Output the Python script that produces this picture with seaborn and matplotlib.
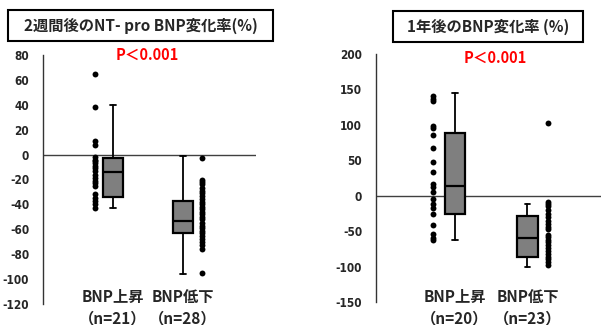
import matplotlib
matplotlib.use("Agg")
import matplotlib.pyplot as plt
import matplotlib.transforms as mtransforms
from matplotlib.patches import Rectangle
import numpy as np
import pandas as pd
import seaborn as sns

# ---- data -------------------------------------------------------------
groups = ["BNP上昇", "BNP低下"]

# NT-proBNP change at 2 weeks (%)
nt_counts = [21, 28]
nt_up = [65, 38, 11, 8, -2, -4, -5, -7, -9, -11, -13, -16, -19, -21, -23,
         -25, -32, -35, -37, -40, -43]
nt_down = [-3, -20, -22, -24, -27, -29, -31, -33, -36, -38, -40, -42, -44,
           -46, -48, -50, -52, -55, -57, -59, -61, -63, -65, -68, -70, -73,
           -76, -95]
nt_whislo = [-43, -96]
nt_q1 = [-34, -63]
nt_med = [-14, -53]
nt_q3 = [-3, -37]
nt_whishi = [40, -1]

# BNP change at 1 year (%)
bnp_counts = [20, 23]
bnp_up = [141, 137, 134, 99, 96, 86, 67, 47, 33, 16, 12, 5, -5, -12, -17,
          -26, -42, -54, -60, -63]
bnp_down = [102, -9, -12, -15, -20, -26, -30, -36, -40, -44, -47, -55, -58,
            -62, -66, -70, -74, -78, -82, -86, -90, -94, -98]
bnp_whislo = [-63, -100]
bnp_q1 = [-26, -87]
bnp_med = [14, -59]
bnp_q3 = [88, -29]
bnp_whishi = [145, -11]

titles = ["2週間後のNT- pro BNP変化率(%)", "1年後のBNP変化率 (%)"]
p_text = "P＜0.001"
nt_ticks = [80, 60, 40, 20, 0, -20, -40, -60, -80, -100, -120]
bnp_ticks = [200, 150, 100, 50, 0, -50, -100, -150]

# ---- style ------------------------------------------------------------
sns.set_style("white")
plt.rcParams["font.family"] = ["Noto Sans CJK JP", "DejaVu Sans"]

W, H = 601, 325
fig = plt.figure(figsize=(W / 100, H / 100), dpi=100)


def px_rect(x0, y0, x1, y1):
    """Figure-fraction rectangle from pixel edges (y from top)."""
    return [x0 / W, 1 - y1 / H, (x1 - x0) / W, (y1 - y0) / H]


def panel(ax, up, down, counts, whislo, q1, med, q3, whishi, ticks,
          ylim, xlim, dot_off, box_w):
    # scatter of individual values beside each box
    pts = pd.DataFrame({
        "x": [1 + dot_off[0]] * len(up) + [2 + dot_off[1]] * len(down),
        "value": up + down,
    })
    sns.scatterplot(data=pts, x="x", y="value", ax=ax, color="black",
                    s=18, linewidth=0, legend=False, zorder=4)

    stats = []
    for i in range(2):
        stats.append(dict(whislo=whislo[i], q1=q1[i], med=med[i],
                          q3=q3[i], whishi=whishi[i], fliers=[]))
    ax.bxp(stats, positions=[1, 2], widths=box_w, patch_artist=True,
           showfliers=False, capwidths=0.08,
           boxprops=dict(facecolor="#7f7f7f", edgecolor="black", linewidth=1.6),
           medianprops=dict(color="black", linewidth=1.6),
           whiskerprops=dict(color="black", linewidth=1.3),
           capprops=dict(color="black", linewidth=1.3),
           zorder=3)

    ax.axhline(0, color="#404040", linewidth=1.0, zorder=2)
    ax.set_xlim(*xlim)
    ax.set_ylim(*ylim)
    ax.set_yticks(ticks)
    ax.set_yticklabels([str(t) for t in ticks], fontsize=8.5,
                       fontweight="bold", family="DejaVu Sans",
                       fontstretch="condensed")
    ax.tick_params(axis="y", length=0, pad=10)
    ax.set_xticks([])
    ax.set_xlabel("")
    ax.set_ylabel("")
    for side in ["top", "right", "bottom"]:
        ax.spines[side].set_visible(False)
    ax.spines["left"].set_color("#333333")
    ax.spines["left"].set_linewidth(1.0)
    ax.patch.set_alpha(0)

    # group labels across the bottom of the panel
    trans = mtransforms.blended_transform_factory(ax.transData, fig.transFigure)
    for i, g in enumerate(groups):
        ax.text(i + 1, 1 - 297 / H, g, transform=trans, ha="center",
                va="center", fontsize=11, fontweight="bold", clip_on=False)
        ax.text(i + 1, 1 - 318 / H, f"（n={counts[i]}）", transform=trans,
                ha="center", va="center", fontsize=11, fontweight="bold",
                clip_on=False)


ax1 = fig.add_axes(px_rect(43, 55, 256, 304))
panel(ax1, nt_up, nt_down, nt_counts, nt_whislo, nt_q1, nt_med, nt_q3,
      nt_whishi, nt_ticks, (-120, 80), (0, 3.043), (-0.257, 0.271), 0.286)

ax2 = fig.add_axes(px_rect(376, 54, 601, 302))
panel(ax2, bnp_up, bnp_down, bnp_counts, bnp_whislo, bnp_q1, bnp_med,
      bnp_q3, bnp_whishi, bnp_ticks, (-150, 200), (-0.09, 3.014),
      (-0.303, 0.283), 0.276)

# boxed panel titles
for (x0, y0, x1, y1), t in zip([(8, 10, 273, 41), (393, 11, 583, 42)], titles):
    fig.patches.append(Rectangle((x0 / W, 1 - y1 / H), (x1 - x0) / W,
                                 (y1 - y0) / H, transform=fig.transFigure,
                                 facecolor="white", edgecolor="black",
                                 linewidth=1.5))
    fig.text((x0 + x1) / 2 / W, 1 - (y0 + y1) / 2 / H, t, ha="center",
             va="center", fontsize=11, fontweight="bold")

# significance labels
for cx, cy in [(147, 55), (495, 58)]:
    fig.text(cx / W, 1 - cy / H, p_text, ha="center", va="center",
             fontsize=10.5, fontweight="bold", color="#ff0000")

fig.savefig("out.png", dpi=100)
